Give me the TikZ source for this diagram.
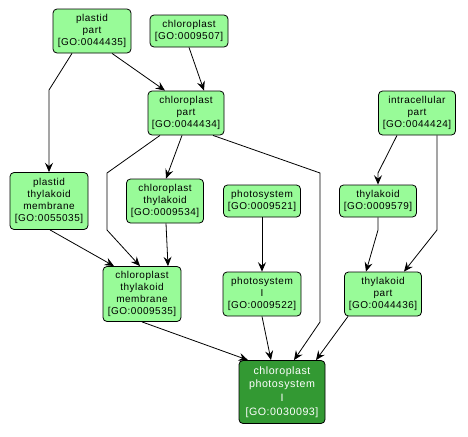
\documentclass[tikz,border=0pt]{standalone}
\usepackage{fontspec}
\setmainfont{Liberation Sans}[LetterSpace=5]
\usetikzlibrary{arrows.meta}
\definecolor{lg}{RGB}{152,251,152}
\definecolor{dg}{RGB}{51,153,51}
\tikzset{
  go/.style={draw=black, fill=lg, rounded corners=3pt, align=center, inner sep=0pt,
    font=\fontsize{7.5}{9}\selectfont, line width=0.6pt},
  gosel/.style={go, fill=dg, text=white},
  edge/.style={line width=0.6pt, -{Stealth[length=7pt,width=6pt,inset=2.5pt]}}
}
\begin{document}
\begin{tikzpicture}[x=0.75pt,y=-0.75pt]
\useasboundingbox (0,0) rectangle (468,436);
\node[go, minimum width=78*0.75pt, minimum height=44*0.75pt] (pp) at (92,31) {plastid\\part\\{[GO:0044435]}};
\node[go, minimum width=78*0.75pt, minimum height=32*0.75pt] (ch) at (189,31) {chloroplast\\{[GO:0009507]}};
\node[go, minimum width=76*0.75pt, minimum height=44*0.75pt] (cp) at (186,113) {chloroplast\\part\\{[GO:0044434]}};
\node[go, minimum width=77*0.75pt, minimum height=44*0.75pt] (ip) at (417,113) {intracellular\\part\\{[GO:0044424]}};
\node[go, minimum width=78*0.75pt, minimum height=57*0.75pt] (ptm) at (49,201) {plastid\\thylakoid\\membrane\\{[GO:0055035]}};
\node[go, minimum width=77*0.75pt, minimum height=44*0.75pt] (ct) at (165,201) {chloroplast\\thylakoid\\{[GO:0009534]}};
\node[go, minimum width=77*0.75pt, minimum height=32*0.75pt] (ps) at (262,201) {photosystem\\{[GO:0009521]}};
\node[go, minimum width=77*0.75pt, minimum height=32*0.75pt] (th) at (378,201) {thylakoid\\{[GO:0009579]}};
\node[go, minimum width=78*0.75pt, minimum height=55*0.75pt] (ctm) at (142,294) {chloroplast\\thylakoid\\membrane\\{[GO:0009535]}};
\node[go, minimum width=78*0.75pt, minimum height=44*0.75pt] (psi) at (262,294) {photosystem\\I\\{[GO:0009522]}};
\node[go, minimum width=77*0.75pt, minimum height=44*0.75pt] (tp) at (383,294) {thylakoid\\part\\{[GO:0044436]}};
\node[gosel, minimum width=86*0.75pt, minimum height=63*0.75pt, font=\fontsize{8}{10.2}\selectfont] (cpsi) at (282,392) {chloroplast\\photosystem\\I\\{[GO:0030093]}};

\coordinate (b1) at (49,90);
\coordinate (b2) at (107,173);
\coordinate (b3) at (107,230);
\coordinate (b4) at (320,173);
\coordinate (b5) at (320,322);
\coordinate (b6) at (378,173);
\coordinate (b7) at (437,230);
\coordinate (b8) at (378,230);

\draw[edge] (pp.south -| 72,0) -- (b1) -- (ptm.north);
\draw[edge] (pp.south -| 112,0) -- (cp.north -| 165,0);
\draw[edge] (ch.south) -- (cp.north -| 204,0);
\draw[edge] (cp.south -| 160,0) -- (b2) -- (b3) -- (ctm.north -| 140,0);
\draw[edge] (cp.south -| 182,0) -- (ct.north -| 166,0);
\draw[edge] (cp.south -| 213,0) -- (b4) -- (b5) -- (cpsi.north -| 294,0);
\draw[edge] (ip.south -| 397,0) -- (b6) -- (th.north);
\draw[edge] (ip.south -| 437,0) -- (b7) -- (tp.north -| 404,0);
\draw[edge] (th.south) -- (b8) -- (tp.north -| 366,0);
\draw[edge] (ptm.south -| 50,0) -- (ctm.north -| 114,0);
\draw[edge] (ct.south -| 166,0) -- (ctm.north -| 168,0);
\draw[edge] (ps.south) -- (psi.north);
\draw[edge] (psi.south) -- (cpsi.north -| 271,0);
\draw[edge] (ctm.south) -- (cpsi.north -| 248,0);
\draw[edge] (tp.south -| 348,0) -- (cpsi.north -| 316,0);
\end{tikzpicture}
\end{document}
